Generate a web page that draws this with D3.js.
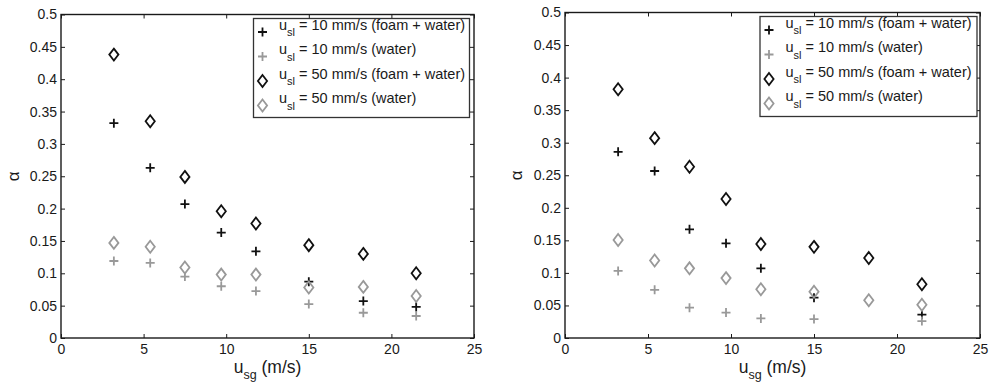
<!DOCTYPE html>
<html>
<head>
<meta charset="utf-8">
<script src="https://cdn.jsdelivr.net/npm/d3@7"></script>
<style>
  html, body { margin: 0; padding: 0; background: #fff; }
  svg { display: block; }
  text { font-family: "Liberation Sans", Arial, Helvetica, sans-serif; fill: #1a1a1a; }
</style>
</head>
<body>
<svg id="chart" width="991" height="385"></svg>
<script>
// ---- data ----
const usg = [3.2, 5.4, 7.5, 9.7, 11.8, 15.0, 18.3, 21.5];

const leftFoam10   = [0.332, 0.263, 0.207, 0.163, 0.134, 0.087, 0.057, 0.048];
const leftWater10  = [0.119, 0.116, 0.095, 0.080, 0.0725, 0.0525, 0.039, 0.034];
const leftFoam50   = [0.438, 0.335, 0.249, 0.196, 0.177, 0.1435, 0.130, 0.100];
const leftWater50  = [0.147, 0.141, 0.109, 0.098, 0.098, 0.078, 0.079, 0.065];

const rightFoam10  = [0.286, 0.2565, 0.167, 0.1455, 0.107, 0.062, null, 0.036];
const rightWater10 = [0.103, 0.074, 0.0466, 0.039, 0.030, 0.029, null, 0.026];
const rightFoam50  = [0.382, 0.307, 0.263, 0.2135, 0.1444, 0.140, 0.123, 0.0825];
const rightWater50 = [0.1505, 0.119, 0.107, 0.092, 0.075, 0.071, 0.058, 0.051];

const seriesLabels = [
  {sub: "sl", rest: " = 10 mm/s (foam + water)"},
  {sub: "sl", rest: " = 10 mm/s (water)"},
  {sub: "sl", rest: " = 50 mm/s (foam + water)"},
  {sub: "sl", rest: " = 50 mm/s (water)"}
];
const seriesMarkers = ["plus", "plus", "diamond", "diamond"];
const seriesColors  = ["#111111", "#999999", "#111111", "#999999"];

const xTicks = [0, 5, 10, 15, 20, 25];
const xTickLabels = ["0", "5", "10", "15", "20", "25"];
const yTicks = [0, 0.05, 0.1, 0.15, 0.2, 0.25, 0.3, 0.35, 0.4, 0.45, 0.5];
const yTickLabels = ["0", "0.05", "0.1", "0.15", "0.2", "0.25", "0.3", "0.35", "0.4", "0.45", "0.5"];

// ---- layout ----
const panels = [
  { x0: 61, x1: 474, top: 14.5, bottom: 338, ylabX: 19, legend: {x: 253.5, y: 18.5, w: 216, h: 99},
    series: [leftFoam10, leftWater10, leftFoam50, leftWater50] },
  { x0: 565, x1: 980, top: 12.5, bottom: 338, ylabX: 522, legend: {x: 760, y: 16.5, w: 217, h: 100},
    series: [rightFoam10, rightWater10, rightFoam50, rightWater50] }
];

const svg = d3.select("#chart");

function drawMarker(g, type, color, x, y) {
  if (type === "plus") {
    const s = 4.5;
    g.append("path")
      .attr("d", `M${x - s},${y}H${x + s}M${x},${y - s}V${y + s}`)
      .attr("stroke", color).attr("stroke-width", 1.8).attr("fill", "none");
  } else {
    const w = 4.6, h = 6;
    g.append("path")
      .attr("d", `M${x},${y - h}L${x + w},${y}L${x},${y + h}L${x - w},${y}Z`)
      .attr("stroke", color).attr("stroke-width", 1.8).attr("fill", "none");
  }
}

panels.forEach(p => {
  const x = d3.scaleLinear().domain([0, 25]).range([p.x0, p.x1]);
  const y = d3.scaleLinear().domain([0, 0.5]).range([p.bottom, p.top]);
  const g = svg.append("g");

  const styleAxis = sel => {
    sel.selectAll(".domain").remove();
    sel.selectAll(".tick line").attr("stroke", "#1a1a1a").attr("stroke-width", 1);
    sel.selectAll(".tick text").attr("font-size", 14).attr("fill", "#1a1a1a")
      .attr("font-family", '"Liberation Sans", Arial, sans-serif');
  };

  g.append("g").attr("transform", `translate(0,${p.bottom})`)
    .call(d3.axisBottom(x).tickValues(xTicks).tickFormat((d, i) => xTickLabels[i]).tickSize(-4).tickPadding(6))
    .call(styleAxis);
  g.append("g").attr("transform", `translate(0,${p.top})`)
    .call(d3.axisTop(x).tickValues(xTicks).tickFormat("").tickSize(-4))
    .call(styleAxis);
  g.append("g").attr("transform", `translate(${p.x0},0)`)
    .call(d3.axisLeft(y).tickValues(yTicks).tickFormat((d, i) => yTickLabels[i]).tickSize(-4).tickPadding(4))
    .call(styleAxis);
  g.append("g").attr("transform", `translate(${p.x1},0)`)
    .call(d3.axisRight(y).tickValues(yTicks).tickFormat("").tickSize(-4))
    .call(styleAxis);

  // box
  g.append("rect").attr("x", p.x0).attr("y", p.top)
    .attr("width", p.x1 - p.x0).attr("height", p.bottom - p.top)
    .attr("fill", "none").attr("stroke", "#1a1a1a").attr("stroke-width", 1.4);

  // data
  p.series.forEach((vals, si) => {
    const sg = g.append("g");
    vals.forEach((v, i) => {
      if (v === null) return;
      drawMarker(sg, seriesMarkers[si], seriesColors[si], x(usg[i]), y(v));
    });
  });

  // axis labels
  const xl = g.append("text").attr("x", (p.x0 + p.x1) / 2).attr("y", 373)
    .attr("text-anchor", "middle").attr("font-size", 17.5);
  xl.append("tspan").text("u");
  xl.append("tspan").attr("font-size", 12.5).attr("dy", 6).text("sg");
  xl.append("tspan").attr("dy", -6).text(" (m/s)");

  g.append("text")
    .attr("transform", `translate(${p.ylabX},${(p.top + p.bottom) / 2}) rotate(-90)`)
    .attr("text-anchor", "middle").attr("font-size", 17).text("α");

  // legend
  const L = p.legend;
  const lg = g.append("g");
  lg.append("rect").attr("x", L.x).attr("y", L.y).attr("width", L.w).attr("height", L.h)
    .attr("fill", "#fff").attr("stroke", "#333").attr("stroke-width", 1.3);
  seriesLabels.forEach((lab, i) => {
    const cy = L.y + 13.5 + i * 24.5;
    drawMarker(lg, seriesMarkers[i], seriesColors[i], L.x + 9, cy);
    const t = lg.append("text").attr("x", L.x + 25.5).attr("y", cy - 2.5).attr("font-size", 14.5);
    t.append("tspan").text("u");
    t.append("tspan").attr("font-size", 11).attr("dy", 6.5).text(lab.sub);
    t.append("tspan").attr("dy", -6.5).text(lab.rest);
  });
});
</script>
</body>
</html>
